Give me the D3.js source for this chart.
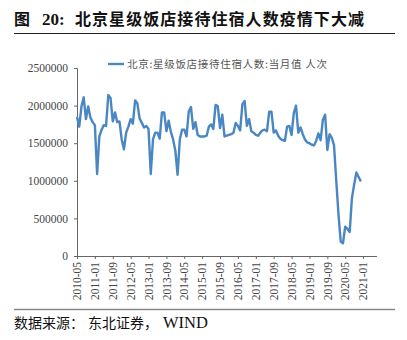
<!DOCTYPE html>
<html>
<head>
<meta charset="utf-8">
<script src="https://cdn.jsdelivr.net/npm/d3@7"></script>
<style>
  html, body { margin: 0; padding: 0; background: #fff; }
  svg { display: block; }
</style>
</head>
<body>
<svg id="chart" width="407" height="340"></svg>
<script>
// Beijing star-rated hotels: guests received per month (person-times)
const seriesName = "北京:星级饭店接待住宿人数:当月值 人次";
const firstMonth = "2010-05";
const lastCategory = "2021-07";
const tickLabels = ["2010-05","2011-01","2011-09","2012-05","2013-01","2013-09","2014-05","2015-01",
  "2015-09","2016-05","2017-01","2017-09","2018-05","2019-01","2019-09","2020-05","2021-01"];
const yTicks = [0, 500000, 1000000, 1500000, 2000000, 2500000];
const guests = [
  1850000,1720000,1990000,2110000,1820000,1990000,1840000,1780000,1740000,1090000,
  1590000,1680000,1740000,1730000,2140000,2100000,1790000,1910000,1780000,1790000,
  1550000,1420000,1640000,1720000,1820000,1760000,2070000,2030000,1830000,1770000,
  1710000,1730000,1690000,1090000,1550000,1640000,1640000,1560000,1910000,1910000,
  1660000,1800000,1650000,1550000,1400000,1080000,1550000,1680000,1680000,1590000,
  1920000,1980000,1690000,1780000,1610000,1590000,1590000,1590000,1600000,1720000,
  1750000,1690000,2010000,1990000,1700000,1880000,1590000,1600000,1610000,1620000,
  1640000,1770000,1730000,1670000,2020000,2060000,1730000,1820000,1660000,1640000,
  1610000,1600000,1640000,1670000,1680000,1660000,1920000,1920000,1640000,1670000,
  1600000,1560000,1540000,1530000,1720000,1730000,1610000,1900000,2000000,1640000,
  1710000,1620000,1550000,1510000,1500000,1480000,1470000,1530000,1630000,1540000,
  1810000,1880000,1410000,1620000,1570000,1470000,1000000,550000,190000,170000,
  390000,360000,320000,770000,950000,1110000,1050000,990000
];

const parse = d3.utcParse("%Y-%m");
const fmt = d3.utcFormat("%Y-%m");
const months = d3.utcMonth.range(parse(firstMonth), d3.utcMonth.offset(parse(lastCategory), 1)).map(fmt);

const svg = d3.select("#chart");
const serif = "'Liberation Serif', 'Times New Roman', serif";
const cjk = "'Noto Sans CJK SC', sans-serif";

// title
const title = svg.append("g")
  .attr("font-weight", 700).attr("fill", "#111");
title.append("text").attr("x", 14).attr("y", 25)
  .attr("font-family", cjk).attr("font-size", 16).text("图");
title.append("text").attr("x", 42).attr("y", 25)
  .attr("font-family", serif).attr("font-size", 17).text("20:");
title.append("text").attr("x", 75).attr("y", 25)
  .attr("font-family", cjk).attr("font-size", 16)
  .attr("textLength", 289).attr("lengthAdjust", "spacing")
  .text("北京星级饭店接待住宿人数疫情下大减");
svg.append("line").attr("x1", 14).attr("x2", 395).attr("y1", 33.5).attr("y2", 33.5)
  .attr("stroke", "#222").attr("stroke-width", 1);

// footer
svg.append("line").attr("x1", 14).attr("x2", 395).attr("y1", 309.5).attr("y2", 309.5)
  .attr("stroke", "#888").attr("stroke-width", 1.5);
const foot = svg.append("g").attr("fill", "#111");
foot.append("text").attr("x", 14).attr("y", 328)
  .attr("font-family", cjk).attr("font-size", 14)
  .attr("textLength", 70).attr("lengthAdjust", "spacing").text("数据来源：");
foot.append("text").attr("x", 88).attr("y", 328)
  .attr("font-family", cjk).attr("font-size", 14)
  .attr("textLength", 70).attr("lengthAdjust", "spacing").text("东北证券，");
foot.append("text").attr("x", 163).attr("y", 328)
  .attr("font-family", serif).attr("font-size", 16.5).text("WIND");

// scales
const x = d3.scalePoint().domain(months).range([77, 376.5]);
const y = d3.scaleLinear().domain([0, 2500000]).range([256, 68]);

// y axis
const yAxis = svg.append("g").attr("transform", "translate(77,0)")
  .call(d3.axisLeft(y).tickValues(yTicks).tickSize(3).tickPadding(6).tickFormat(d3.format("d")));
yAxis.select(".domain").attr("stroke", "#666");
yAxis.selectAll(".tick line").attr("stroke", "#666");
yAxis.selectAll("text").attr("font-family", serif).attr("font-size", 11.5).attr("fill", "#444");

// x axis
const xAxis = svg.append("g").attr("transform", "translate(0,256)")
  .call(d3.axisBottom(x).tickValues(tickLabels).tickSize(3).tickSizeOuter(0));
xAxis.select(".domain").attr("stroke", "#666");
xAxis.selectAll(".tick line").attr("stroke", "#666");
xAxis.selectAll("text")
  .attr("font-family", serif).attr("font-size", 11.5).attr("fill", "#444")
  .attr("transform", "rotate(-90)")
  .attr("text-anchor", "end")
  .attr("dx", "-6").attr("dy", "0.32em")
  .attr("x", 0).attr("y", 0);

// series line
const line = d3.line()
  .x((d, i) => x(months[i]))
  .y(d => y(d));
svg.append("path").datum(guests)
  .attr("d", line)
  .attr("fill", "none")
  .attr("stroke", "#4a87c2")
  .attr("stroke-width", 2.4)
  .attr("stroke-linejoin", "round");

// legend
svg.append("line").attr("x1", 108).attr("x2", 124).attr("y1", 64).attr("y2", 64)
  .attr("stroke", "#4a87c2").attr("stroke-width", 2.4);
svg.append("text").attr("x", 127).attr("y", 68)
  .attr("font-family", cjk).attr("font-size", 10.5).attr("fill", "#555")
  .attr("textLength", 200).attr("lengthAdjust", "spacing")
  .text(seriesName);
</script>
</body>
</html>
